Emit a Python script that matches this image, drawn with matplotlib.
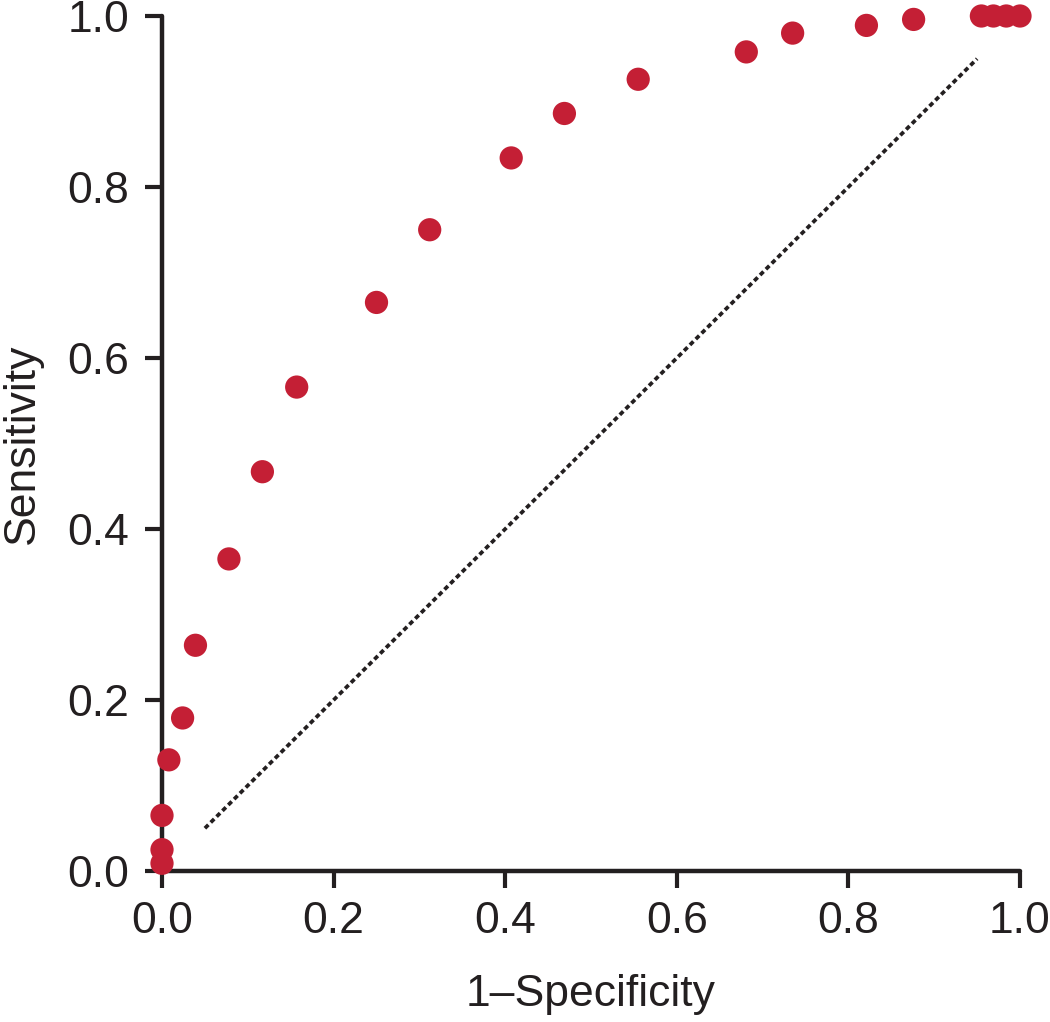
import numpy as np
import matplotlib
matplotlib.use("Agg")
import matplotlib.pyplot as plt

plt.rcParams["font.family"] = ["Liberation Sans", "DejaVu Sans"]

# ROC points
fpr = [0.0, 0.0, 0.0, 0.008, 0.024, 0.039, 0.078, 0.117, 0.157, 0.250, 0.312,
       0.407, 0.469, 0.555, 0.681, 0.735, 0.821, 0.876, 0.955, 0.969, 0.984, 1.0]
tpr = [0.009, 0.025, 0.065, 0.130, 0.179, 0.264, 0.365, 0.467, 0.566, 0.665, 0.750,
       0.834, 0.886, 0.926, 0.958, 0.980, 0.989, 0.996, 1.0, 1.0, 1.0, 1.0]

# chance diagonal end points
diag_x = [0.05, 0.95]
diag_y = [0.05, 0.95]

ticks = [0.0, 0.2, 0.4, 0.6, 0.8, 1.0]
tick_labels = ["0.0", "0.2", "0.4", "0.6", "0.8", "1.0"]

ink = "#231f20"
red = "#c41f35"

fig = plt.figure(figsize=(10.5, 10.22), dpi=100)
ax = fig.add_axes([162/1050, 1 - 871/1022, 858/1050, 855/1022])

ax.plot(diag_x, diag_y, color=ink, lw=2.7, ls=(0, (1.3, 0.9)), zorder=2)
ax.scatter(fpr, tpr, s=280, color=red, edgecolors="none", zorder=3, clip_on=False)

ax.set_xlim(0, 1)
ax.set_ylim(0, 1)
ax.set_xticks(ticks)
ax.set_xticklabels(tick_labels)
ax.set_yticks(ticks)
ax.set_yticklabels(tick_labels)

for side in ["top", "right"]:
    ax.spines[side].set_visible(False)
for side in ["left", "bottom"]:
    ax.spines[side].set_linewidth(3.2)
    ax.spines[side].set_color(ink)
    ax.spines[side].set_capstyle("round")

ax.tick_params(axis="both", direction="out", length=12.5, width=3.0, color=ink,
               labelsize=32, labelcolor=ink)
ax.tick_params(axis="x", pad=9)
ax.tick_params(axis="y", pad=11)

ax.set_xlabel("1\u2013Specificity", fontsize=32, color=ink, labelpad=23)
ax.set_ylabel("Sensitivity", fontsize=32, color=ink, labelpad=18)

fig.savefig("out.png", dpi=100)
